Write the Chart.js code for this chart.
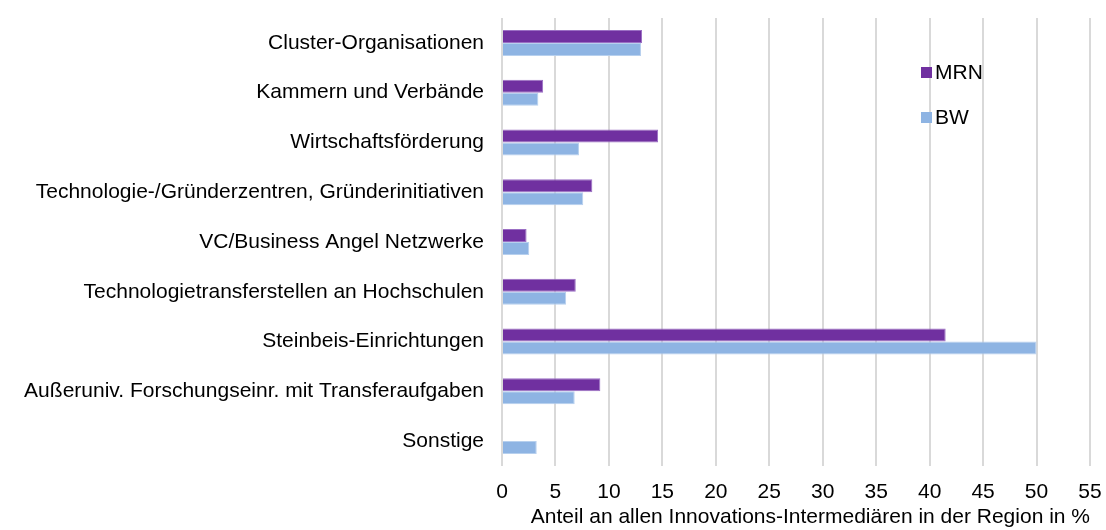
<!DOCTYPE html>
<html><head><meta charset="utf-8">
<script src="https://cdn.jsdelivr.net/npm/chart.js@4"></script>
<style>html,body{margin:0;padding:0;background:#fff}#wrap{width:1106px;height:530px;position:relative}</style>
</head><body><div id="wrap"><canvas id="c" width="1106" height="530"></canvas></div>
<script>
const categories = ["Cluster-Organisationen","Kammern und Verbände","Wirtschaftsförderung","Technologie-/Gründerzentren, Gründerinitiativen","VC/Business Angel Netzwerke","Technologietransferstellen an Hochschulen","Steinbeis-Einrichtungen","Außeruniv. Forschungseinr. mit Transferaufgaben","Sonstige"];
const mrnValues = [13.1, 3.85, 14.6, 8.45, 2.3, 6.9, 41.5, 9.2, 0];
const bwValues = [13.0, 3.4, 7.2, 7.6, 2.55, 6.0, 50.0, 6.8, 3.25];
const seriesNames = ["MRN","BW"];
const xTicks = [0,5,10,15,20,25,30,35,40,45,50,55];
const axisTitle = "Anteil an allen Innovations-Intermediären in der Region in %";

const FONT = "'Liberation Sans', Arial, sans-serif";
const FS = 21;
const colors = ["#7030A0", "#8EB4E3"];
const borders = ["#9B6FC4", "#B7D0EE"];

const legendPlugin = {
  id: 'customLegend',
  afterDraw(chart) {
    const ctx = chart.ctx;
    ctx.save();
    ctx.font = FS + "px " + FONT;
    ctx.textBaseline = 'middle';
    const pos = [[921, 72], [921, 117]];
    seriesNames.forEach((n, i) => {
      ctx.fillStyle = colors[i];
      ctx.fillRect(pos[i][0], pos[i][1] - 5, 11, 11);
      ctx.fillStyle = '#000';
      ctx.fillText(n, pos[i][0] + 14, pos[i][1] + 1);
    });
    ctx.restore();
  }
};

new Chart(document.getElementById('c'), {
  type: 'bar',
  data: {
    labels: categories,
    datasets: [
      {label: seriesNames[0], data: mrnValues, backgroundColor: colors[0], borderColor: borders[0], borderWidth: 1, categoryPercentage: 0.522, barPercentage: 1},
      {label: seriesNames[1], data: bwValues, backgroundColor: colors[1], borderColor: borders[1], borderWidth: 1, categoryPercentage: 0.522, barPercentage: 1}
    ]
  },
  options: {
    indexAxis: 'y',
    responsive: false,
    animation: false,
    layout: {padding: {top: 18, right: 16, left: 0, bottom: 0}},
    plugins: {legend: {display: false}, tooltip: {enabled: false}},
    scales: {
      x: {
        min: 0, max: 55,
        afterBuildTicks(axis) { axis.ticks = xTicks.map(v => ({value: v})); },
        afterFit(axis) { axis.height = 64; axis.paddingLeft = 0; axis.paddingRight = 0; },
        grid: {color: '#D9D9D9', lineWidth: 2, drawTicks: false},
        border: {display: false},
        ticks: {font: {family: FONT, size: FS}, color: '#000', padding: 14, maxRotation: 0},
        title: {display: true, text: axisTitle, font: {family: FONT, size: FS}, color: '#000', padding: {top: 0, bottom: 0}, align: 'end'}
      },
      y: {
        afterFit(axis) { axis.width = 502; axis.paddingTop = 0; axis.paddingBottom = 0; },
        grid: {display: false, drawTicks: false},
        border: {display: false},
        ticks: {font: {family: FONT, size: FS}, color: '#000', padding: 18, autoSkip: false}
      }
    }
  },
  plugins: [legendPlugin]
});
</script></body></html>
